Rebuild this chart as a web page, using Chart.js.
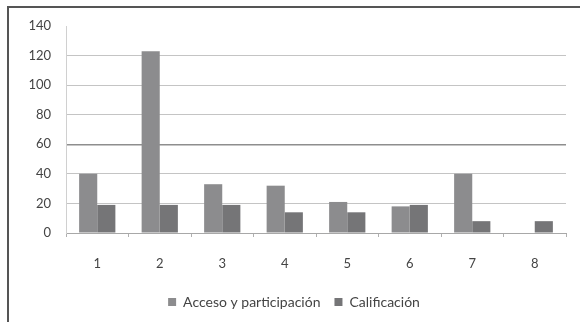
<!DOCTYPE html>
<html>
<head>
<meta charset="utf-8">
<script src="https://cdn.jsdelivr.net/npm/chart.js@4"></script>
<style>
  body { margin: 0; background: #fff; }
  #wrap { position: relative; width: 580px; height: 322px; overflow: hidden; }
  #frame { position: absolute; left: 7px; top: 6px; width: 600px; height: 400px;
           border-top: 2px solid #555; border-left: 2px solid #555; }
  canvas { position: absolute; left: 0; top: 0; }
</style>
</head>
<body>
<div id="wrap">
  <div id="frame"></div>
  <canvas id="chart" width="580" height="322"></canvas>
</div>
<script>
const categories = ["1", "2", "3", "4", "5", "6", "7", "8"];
const acceso = [40, 123, 33, 32, 21, 18, 40, 0];
const calificacion = [19, 19, 19, 14, 14, 19, 8, 8];

const tickFont = { family: "Lato", size: 13 };

new Chart(document.getElementById("chart"), {
    type: "bar",
    data: {
        labels: categories,
        datasets: [
            {
                label: "Acceso y participación",
                data: acceso,
                backgroundColor: "#8c8c8e",
                categoryPercentage: 0.58,
                barPercentage: 1,
            },
            {
                label: "Calificación",
                data: calificacion,
                backgroundColor: "#757577",
                categoryPercentage: 0.58,
                barPercentage: 1,
            },
        ],
    },
    options: {
        responsive: false,
        animation: false,
        layout: { padding: { top: 26, right: 14, left: 22, bottom: 3 } },
        plugins: {
            tooltip: { enabled: false },
            legend: {
                position: "bottom",
                labels: {
                    boxWidth: 8,
                    boxHeight: 8,
                    color: "#444",
                    font: { family: "Lato", size: 14 },
                    padding: 14,
                },
            },
        },
        scales: {
            x: {
                grid: {
                    drawOnChartArea: false,
                    tickLength: 4,
                    color: "#b0b0b0",
                },
                border: { color: "#a8a8a8" },
                ticks: { color: "#444", font: tickFont, padding: 19 },
                afterFit: function (s) { s.height = 48; },
            },
            y: {
                min: 0,
                max: 140,
                ticks: { stepSize: 20, color: "#444", font: tickFont, padding: 15 },
                grid: {
                    tickLength: 0,
                    color: function (ctx) {
                        if (ctx.tick && ctx.tick.value === 140) return "rgba(0,0,0,0)";
                        if (ctx.tick && ctx.tick.value === 60) return "#8e8e8e";
                        return "#c4c4c4";
                    },
                    lineWidth: function (ctx) {
                        return ctx.tick && ctx.tick.value === 60 ? 1.5 : 1;
                    },
                },
                border: { color: "#d0d0d0" },
                afterFit: function (s) { s.width = 44; },
            },
        },
    },
});
</script>
</body>
</html>
